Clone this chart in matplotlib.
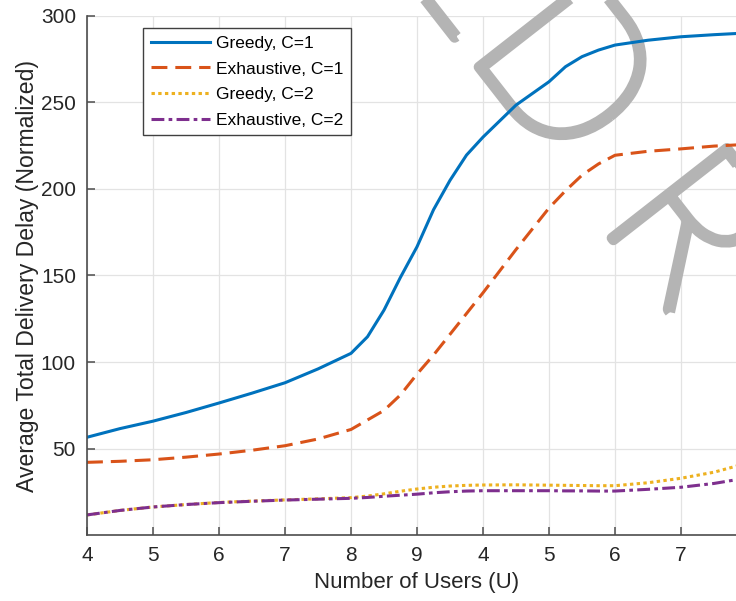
import matplotlib
matplotlib.use('Agg')
import matplotlib.pyplot as plt
import matplotlib.patheffects as pe

plt.rcParams['font.family'] = ['Liberation Sans', 'DejaVu Sans']

# x positions (index along the axis) and tick labels as printed on the chart
x = [0, 0.5, 1, 1.5, 2, 2.5, 3, 3.5, 4, 4.25, 4.5, 4.75, 5, 5.25, 5.5, 5.75, 6,
     6.5, 7, 7.25, 7.5, 7.75, 8, 8.5, 9, 9.5, 10]
tick_pos = [0, 1, 2, 3, 4, 5, 6, 7, 8, 9]
tick_labels = ['4', '5', '6', '7', '8', '9', '4', '5', '6', '7']

greedy_c1 = [56.5, 61.5, 65.8, 70.8, 76.3, 82, 88, 96, 105, 114.6, 130, 149, 166.6,
             188, 205, 219.6, 230, 248.5, 262, 270.7, 276.5, 280.3, 283.2, 286, 288,
             289.2, 290.2]
exhaustive_c1 = [42, 42.6, 43.5, 45, 46.8, 49, 51.6, 55.5, 61, 66.5, 72, 81, 93,
                 104, 116, 128, 140, 165, 189, 199, 208, 214.5, 219.5, 221.8, 223.2,
                 224.8, 225.8]
greedy_c2 = [11.6, 14.2, 16.2, 17.6, 18.8, 19.6, 20.3, 20.9, 21.6, 22.5, 23.8, 25.3,
             26.6, 27.6, 28.3, 28.7, 28.9, 29, 28.8, 28.7, 28.6, 28.5, 28.5, 30.2, 32.8,
             36.3, 41.5]
exhaustive_c2 = [11.6, 14.2, 16.2, 17.6, 18.7, 19.5, 20.2, 20.7, 21.2, 21.7, 22.4, 23,
                 23.6, 24.4, 25, 25.4, 25.6, 25.6, 25.6, 25.5, 25.5, 25.4, 25.4, 26.4,
                 27.6, 29.8, 33]

W, H = 736, 601
fig = plt.figure(figsize=(W / 100, H / 100), dpi=100)
# the axes run past the right edge of the picture, as in the original
ax = fig.add_axes([87 / W, (H - 535) / H, 660 / W, 519 / H])

lw = 2.2
ax.plot(x, greedy_c1, color='#0072BD', lw=lw, label='Greedy, C=1')
ax.plot(x, exhaustive_c1, color='#D95319', lw=lw, dashes=(5.2, 2.6), label='Exhaustive, C=1')
ax.plot(x, greedy_c2, color='#EDB120', lw=lw, dashes=(1.1, 1.1), label='Greedy, C=2')
ax.plot(x, exhaustive_c2, color='#7E2F8E', lw=lw, dashes=(4.2, 1.4, 1.2, 1.4),
        label='Exhaustive, C=2')

ax.set_xlim(0, 10)
ax.set_ylim(0, 300)
ax.set_xticks(tick_pos)
ax.set_xticklabels(tick_labels)
ax.set_yticks([50, 100, 150, 200, 250, 300])

ax.grid(True, color='#e3e3e3', lw=0.9)
ax.set_axisbelow(True)
for s in ['top', 'right']:
    ax.spines[s].set_visible(False)
for s in ['left', 'bottom']:
    ax.spines[s].set_color('#4d4d4d')
    ax.spines[s].set_linewidth(1.2)
ax.tick_params(direction='in', length=6, width=1.1, color='#4d4d4d',
               labelsize=15, labelcolor='#262626', pad=8)

ax.set_xlabel('Number of Users (U)', fontsize=16, color='#262626', labelpad=5)
ax.set_ylabel('Average Total Delivery Delay (Normalized)', fontsize=16.6,
              color='#262626', labelpad=1)

leg = ax.legend(loc='upper left', bbox_to_anchor=((143 - 87) / 660, (535 - 28) / 519),
                borderaxespad=0, fontsize=12.5, handlelength=3.4, handletextpad=0.35,
                labelspacing=0.6, borderpad=0.45, fancybox=False, framealpha=1)
leg.get_frame().set_edgecolor('#404040')
leg.get_frame().set_linewidth(1.0)

# watermark letters, between the grid and the curves (thin font thickened by a stroke)
wm = dict(fontsize=150, color='none', rotation=-52, rotation_mode='anchor',
          va='baseline', family=['Lato', 'DejaVu Sans'], fontweight='light',
          zorder=1.5, clip_on=False, transform=fig.transFigure,
          path_effects=[pe.Stroke(linewidth=7.5, foreground='#b4b4b4')])
ax.text(462 / W, 1 - 47 / H, 'E', ha='right', **wm)
ax.text(464 / W, 1 - 48 / H, 'D', ha='left', **wm)
ax.text(597 / W, 1 - 219 / H, 'R', ha='left', **wm)

fig.savefig('out.png', dpi=100)
